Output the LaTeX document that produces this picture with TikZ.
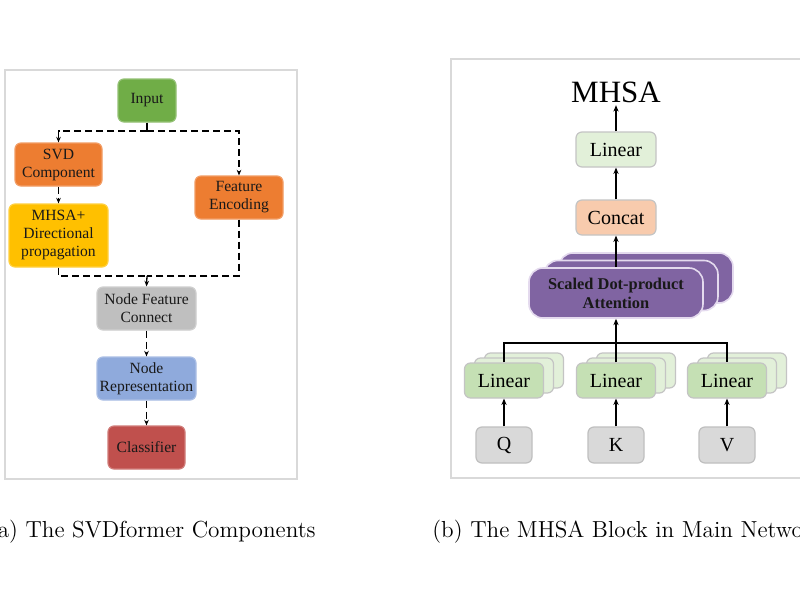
\documentclass[tikz,border=0pt]{standalone}
\usepackage{fontspec}
\newfontfamily\tnr{Liberation Serif}
\usetikzlibrary{arrows.meta}
\definecolor{cgreen}{HTML}{70AD47}
\definecolor{corange}{HTML}{ED7D31}
\definecolor{cyellow}{HTML}{FFC000}
\definecolor{cgray}{HTML}{BFBFBF}
\definecolor{cblue}{HTML}{8FAADC}
\definecolor{cred}{HTML}{C0504D}
\definecolor{cframe}{HTML}{D9D9D9}
\definecolor{clgreen}{HTML}{E2F0D9}
\definecolor{cmgreen}{HTML}{C5E0B4}
\definecolor{cpeach}{HTML}{F8CBAD}
\definecolor{cpurple}{HTML}{8064A2}
\definecolor{clav}{HTML}{E4DAEE}
\definecolor{cqkv}{HTML}{D9D9D9}
\definecolor{cbord}{HTML}{C4C4C4}
\tikzset{
  lbox/.style={rounded corners=3pt, minimum height=21.5pt, inner sep=0pt, align=center,
    line width=0.6pt, font={\tnr\fontsize{7.8}{9}\selectfont}, text=black!90},
  rbox/.style={rounded corners=3pt, minimum height=17.5pt, inner sep=0pt, align=center,
    draw=cbord, line width=0.6pt, font={\tnr\fontsize{10}{12}\selectfont}, text=black},
  attbox/.style={rounded corners=7pt, minimum width=87pt, minimum height=25pt, inner sep=0pt,
    align=center, fill=cpurple, draw=clav, line width=0.8pt,
    font={\tnr\bfseries\fontsize{8.2}{9.5}\selectfont}, text=black!90},
  dline/.style={line width=0.65pt, dash pattern=on 3.5pt off 2pt},
  darr/.style={dline, -{Stealth[length=2.8pt,width=2.3pt]}},
  sline/.style={line width=0.65pt},
  sarr/.style={sline, -{Stealth[length=3.2pt,width=2.6pt]}},
  captext/.style={inner sep=0pt, font={\fontsize{11.6}{13}\selectfont}},
}
\begin{document}
\begin{tikzpicture}[x=0.5pt,y=-0.5pt]
\useasboundingbox (0,0) rectangle (800,600);
\clip (0,0) rectangle (800,600);
\fill[white] (0,0) rectangle (800,600);
% frames
\draw[cframe, line width=0.6pt] (5,70) rectangle (297,479);
\draw[cframe, line width=0.6pt] (451,59) rectangle (830,478);
% ---------- left panel ----------
\node[lbox, fill=cgreen, draw=cgreen!75!white, minimum width=29pt] (in) at (147,100.5) {Input};
\node[lbox, fill=corange, draw=corange!75!white, minimum width=43.5pt] (svd) at (58.5,164.5) {SVD\\Component};
\node[lbox, fill=cyellow, draw=cyellow!75!white, minimum width=49.5pt, minimum height=31.5pt] (mh) at (58.5,235.5) {MHSA+\\Directional\\propagation};
\node[lbox, fill=corange, draw=corange!75!white, minimum width=44pt] (fe) at (239,197.5) {Feature\\Encoding};
\node[lbox, fill=cgray, draw=cgray!75!white, minimum width=49.5pt] (nfc) at (146.5,308.5) {Node Feature\\Connect};
\node[lbox, fill=cblue, draw=cblue!75!white, minimum width=49.5pt] (nr) at (146.5,378.5) {Node\\Representation};
\node[lbox, fill=cred, draw=cred!75!white, minimum width=38.5pt] (cls) at (146.5,447.5) {Classifier};
\coordinate (j1) at (147,131);
\coordinate (j2) at (147,276);
\draw[dline] (in.south) -- (j1);
\draw[darr] (j1) -| (svd.north);
\draw[darr] (j1) -| (fe.north);
\draw[darr] (svd.south) -- (mh.north);
\draw[dline] (mh.south) |- (j2);
\draw[dline] (fe.south) |- (j2);
\draw[darr] (j2) -- (nfc.north);
\draw[darr] (nfc.south) -- (nr.north);
\draw[darr] (nr.south) -- (cls.north);
% ---------- right panel ----------
\node[font={\tnr\fontsize{15.5}{16}\selectfont}, inner sep=0pt] (mhsa) at (616,92) {MHSA};
\node[rbox, fill=clgreen, minimum width=40pt] (lin) at (616,149.5) {Linear};
\node[rbox, fill=cpeach, minimum width=40pt] (cat) at (616,217.5) {Concat};
\node[attbox] (att3) at (646,278) {};
\node[attbox] (att2) at (631,285.5) {};
\node[attbox] (att) at (616,293) {Scaled Dot-product\\Attention};
\foreach \n/\x in {q/504,k/616,v/727}{
  \node[rbox, fill=clgreen, minimum width=39.5pt] (l\n3) at (\x+20,370.5) {};
  \node[rbox, fill=clgreen, minimum width=39.5pt] (l\n2) at (\x+10,375.5) {};
}
\node[rbox, fill=cmgreen, minimum width=39.5pt] (lq) at (504,380.5) {Linear};
\node[rbox, fill=cmgreen, minimum width=39.5pt] (lk) at (616,380.5) {Linear};
\node[rbox, fill=cmgreen, minimum width=39.5pt] (lv) at (727,380.5) {Linear};
\node[rbox, fill=cqkv, draw=cgray, minimum width=28pt, minimum height=18pt] (q) at (504,445) {Q};
\node[rbox, fill=cqkv, draw=cgray, minimum width=28pt, minimum height=18pt] (k) at (616,445) {K};
\node[rbox, fill=cqkv, draw=cgray, minimum width=28pt, minimum height=18pt] (v) at (727,445) {V};
\coordinate (j) at (616,343);
\draw[sarr, shorten >=1.2pt] (lin.north) -- (mhsa.south);
\draw[sarr] (cat.north) -- (lin.south);
\draw[sarr] (att.north) -- (cat.south);
\draw[sline] (lq.north) |- (j) -| (lv.north);
\draw[sline] (lk.north) -- (j);
\draw[sarr] (j) -- (att.south);
\draw[sarr] (q.north) -- (lq.south);
\draw[sarr] (k.north) -- (lk.south);
\draw[sarr] (v.north) -- (lv.south);
% ---------- captions ----------
\node[anchor=base east, captext] (capa) at (316,537) {(a) The SVDformer Components};
\node[anchor=base west, captext] (capb) at (432,537) {(b) The MHSA Block in Main Network};
\end{tikzpicture}
\end{document}
